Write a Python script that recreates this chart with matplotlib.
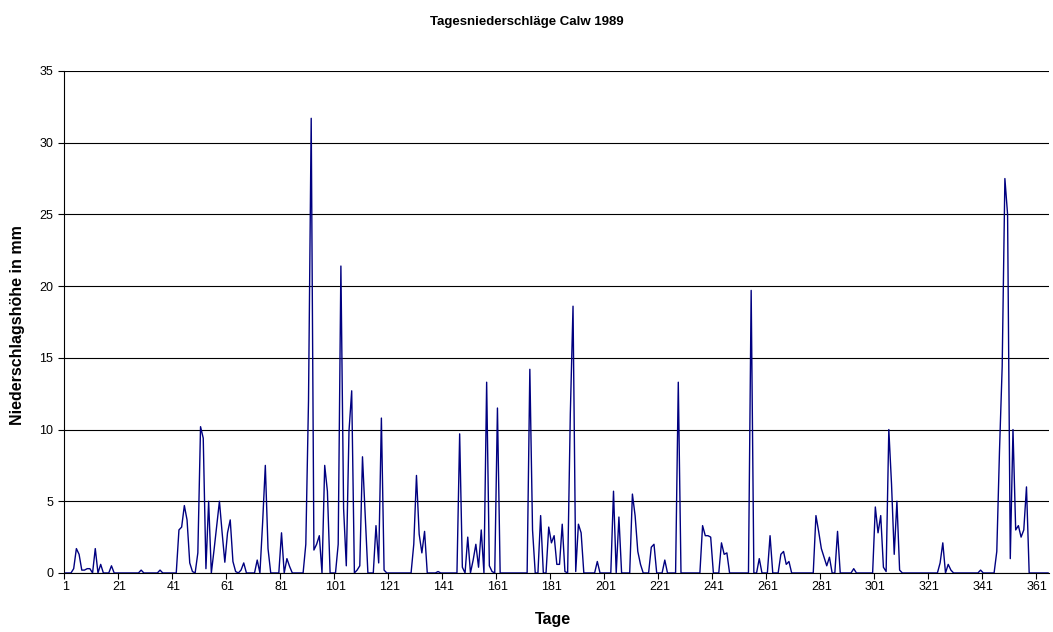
import numpy as np
import matplotlib.pyplot as plt
from matplotlib.ticker import FixedLocator

plt.rcParams['font.family'] = ['Liberation Sans', 'DejaVu Sans']

# Tagesniederschlag in mm, Tag 1..365
jan = [0, 0, 0, 0.3, 1.7, 1.3, 0.2, 0.2, 0.3, 0.3, 0, 1.7, 0, 0.6, 0, 0, 0, 0.5, 0, 0,
       0, 0, 0, 0, 0, 0, 0, 0, 0.2, 0, 0]
feb = [0, 0, 0, 0, 0.2, 0, 0, 0, 0, 0, 0, 3.0, 3.2, 4.7, 3.7, 0.7, 0.1, 0, 1.4, 10.2,
       9.4, 0.3, 5.0, 0, 1.6, 3.3, 5.0, 2.8]
mar = [0.75, 2.8, 3.7, 0.8, 0.1, 0, 0.2, 0.7, 0, 0, 0, 0, 0.9, 0, 3.5, 7.5, 1.7, 0, 0, 0,
       0, 2.8, 0, 1.0, 0.45, 0, 0, 0, 0, 0, 2.0]
apr = [12.0, 31.7, 1.6, 2.0, 2.6, 0, 7.5, 5.7, 0, 0, 0, 2.0, 21.4, 4.5, 0.5, 9.9, 12.7, 0, 0.2, 0.5,
       8.1, 4.0, 0, 0, 0, 3.3, 0.7, 10.8, 0.2, 0]
mai = [0, 0, 0, 0, 0, 0, 0, 0, 0, 2.0, 6.8, 2.7, 1.4, 2.9, 0, 0, 0, 0, 0.1, 0,
       0, 0, 0, 0, 0, 0, 9.7, 0.4, 0, 2.5, 0]
jun = [0.9, 2.0, 0.4, 3.0, 0, 13.3, 0.5, 0.1, 0, 11.5, 0, 0, 0, 0, 0, 0, 0, 0, 0, 0,
       0, 14.2, 3.0, 0, 0, 4.0, 0, 0, 3.2, 2.1]
jul = [2.6, 0.6, 0.6, 3.4, 0.1, 0, 11.1, 18.6, 0.1, 3.4, 2.8, 0, 0, 0, 0, 0, 0.8, 0, 0, 0,
       0, 0, 5.7, 0, 3.9, 0, 0, 0, 0, 5.5, 4.0]
aug = [1.5, 0.6, 0, 0, 0, 1.8, 2.0, 0, 0, 0, 0.9, 0, 0, 0, 0, 13.3, 0, 0, 0, 0,
       0, 0, 0, 0, 3.3, 2.6, 2.6, 2.5, 0, 0, 0]
sep = [2.1, 1.3, 1.4, 0, 0, 0, 0, 0, 0, 0, 0, 19.7, 0, 0, 1.0, 0, 0, 0, 2.6, 0,
       0, 0, 1.3, 1.5, 0.6, 0.8, 0, 0, 0, 0]
okt = [0, 0, 0, 0, 0, 4.0, 2.9, 1.7, 1.1, 0.5, 1.1, 0, 0, 2.9, 0, 0, 0, 0, 0, 0.3,
       0, 0, 0, 0, 0, 0, 0, 4.6, 2.8, 4.0, 0.4]
nov = [0.1, 10.0, 6.2, 1.3, 5.0, 0.2, 0, 0, 0, 0, 0, 0, 0, 0, 0, 0, 0, 0, 0, 0,
       0.7, 2.1, 0, 0.6, 0.2, 0, 0, 0, 0, 0]
dez = [0, 0, 0, 0, 0, 0.2, 0, 0, 0, 0, 0, 1.5, 8.5, 14.4, 27.5, 25.0, 1.0, 10.0, 3.0, 3.3,
       2.5, 3.0, 6.0, 0, 0, 0, 0, 0, 0, 0, 0]

werte = jan + feb + mar + apr + mai + jun + jul + aug + sep + okt + nov + dez
tage = np.arange(1, len(werte) + 1)

fig = plt.figure(figsize=(10.53, 6.32), dpi=100)
ax = fig.add_axes([0.061, 0.0934, 0.9356, 0.7943])

ax.plot(tage, werte, color='#000080', lw=1.0, zorder=3)

ax.set_xlim(0.5, 365.5)
ax.set_ylim(0, 35)
ax.set_yticks(range(0, 36, 5))
ax.yaxis.grid(True, color='black', lw=0.8)
ax.set_axisbelow(True)

# Beschriftung in der Mitte der Kategorie, Striche an den Grenzen
ax.set_xticks(range(1, 362, 20))
ax.xaxis.set_minor_locator(FixedLocator(np.arange(0.5, 366, 20)))
ax.tick_params(axis='x', which='major', length=0, pad=6, labelsize=9)
ax.tick_params(axis='x', which='minor', length=4, width=0.8, direction='out')
ax.tick_params(axis='y', length=4, width=0.8, labelsize=9, pad=4)

for s in ['top', 'right']:
    ax.spines[s].set_visible(False)
ax.spines['left'].set_linewidth(0.8)
ax.spines['bottom'].set_linewidth(0.8)

fig.text(0.5, 0.965, 'Tagesniederschläge Calw 1989', ha='center', va='center',
         fontsize=9.5, fontweight='bold')
fig.text(0.525, 0.019, 'Tage', ha='center', va='center', fontsize=11.5, fontweight='bold')
fig.text(0.017, 0.485, 'Niederschlagshöhe in mm', ha='center', va='center',
         rotation=90, fontsize=11.5, fontweight='bold')

fig.savefig('out.png', dpi=100)
